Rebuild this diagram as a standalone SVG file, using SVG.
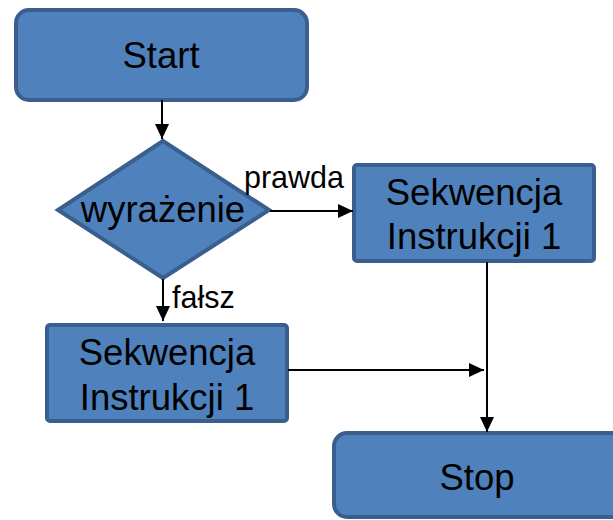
<svg xmlns="http://www.w3.org/2000/svg" width="613" height="520" viewBox="0 0 613 520">
<style>
.shape{fill:#4f81bd;stroke:#3a5f8e;stroke-width:4}
.big{font-family:"Liberation Sans",Arial,sans-serif;font-size:36.5px;fill:#000;text-anchor:middle}
.lbl{font-family:"Liberation Sans",Arial,sans-serif;font-size:30.5px;fill:#000}
.conn{stroke:#000;stroke-width:2;fill:none;marker-end:url(#ah)}
</style>
<defs>
<marker id="ah" markerUnits="userSpaceOnUse" markerWidth="16" markerHeight="16" viewBox="0 0 16 16" refX="15" refY="8" orient="auto">
<path d="M0,1 L15,8 L0,15 Z" fill="#000"/>
</marker>
</defs>
<g id="start">
<rect class="shape" x="16" y="10" width="291" height="90" rx="13"/>
<text class="big" x="161" y="68">Start</text>
</g>
<g id="decision">
<polygon class="shape" points="163,141 269,210 163,278 58,210" stroke-width="3"/>
<text class="big" x="163" y="222">wyrażenie</text>
</g>
<g id="seqTrue">
<rect class="shape" x="354" y="165" width="240" height="96" rx="3" stroke-width="3"/>
<text class="big" x="474" y="205">Sekwencja</text>
<text class="big" x="474" y="249">Instrukcji 1</text>
</g>
<g id="seqFalse">
<rect class="shape" x="47" y="325" width="240" height="96" rx="3" stroke-width="3"/>
<text class="big" x="167" y="365">Sekwencja</text>
<text class="big" x="167" y="410">Instrukcji 1</text>
</g>
<g id="stop">
<rect class="shape" x="334" y="433" width="290" height="84" rx="13"/>
<text class="big" x="477" y="490">Stop</text>
</g>
<g id="connectors">
<line class="conn" x1="162" y1="100" x2="162" y2="139"/>
<line class="conn" x1="270" y1="211" x2="353" y2="211"/>
<line class="conn" x1="163" y1="279" x2="163" y2="321"/>
<line class="conn" x1="288" y1="370" x2="484" y2="370"/>
<line class="conn" x1="487" y1="262" x2="487" y2="432"/>
<text class="lbl" x="244" y="188">prawda</text>
<text class="lbl" x="172" y="308">fałsz</text>
</g>
</svg>
